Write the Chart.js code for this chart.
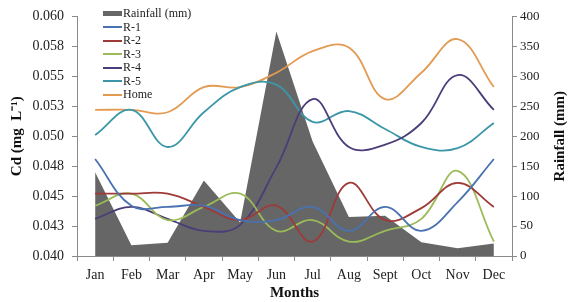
<!DOCTYPE html>
<html>
<head>
<meta charset="utf-8">
<script src="https://cdn.jsdelivr.net/npm/chart.js@4.4.0/dist/chart.umd.min.js"></script>
<style>
    body { margin: 0; background: #fff; }
    #wrap { position: relative; width: 568px; height: 302px; }
    #legend { position: absolute; left: 103px; top: 7px; font: 12px 'Liberation Serif', serif; color: #222; }
    #legend .row { height: 13.5px; display: flex; align-items: center; }
    #legend .sym { width: 19px; margin-right: 1px; }
</style>
</head>
<body>
<div id="wrap">
    <canvas id="rain-cd-chart" width="568" height="302"></canvas>
    <div id="legend"></div>
</div>
<script>
const months = ['Jan', 'Feb', 'Mar', 'Apr', 'May', 'Jun', 'Jul', 'Aug', 'Sept', 'Oct', 'Nov', 'Dec'];
const rainfall = [140, 18, 22, 126, 56, 375, 191, 65, 67, 23, 13, 21];
const r1 = [0.0481, 0.0442, 0.0441, 0.0442, 0.0430, 0.0430, 0.0441, 0.0421, 0.0441, 0.0421, 0.0445, 0.0481];
const r2 = [0.0452, 0.0452, 0.0452, 0.0441, 0.0430, 0.0442, 0.0412, 0.0461, 0.0430, 0.0440, 0.0461, 0.0441];
const r3 = [0.0442, 0.0452, 0.0430, 0.0441, 0.0452, 0.0421, 0.0430, 0.0412, 0.0421, 0.0431, 0.0471, 0.0412];
const r4 = [0.0431, 0.0441, 0.0431, 0.0421, 0.0426, 0.0474, 0.0531, 0.0491, 0.0493, 0.0511, 0.0551, 0.0522];
const r5 = [0.0501, 0.0522, 0.0491, 0.0520, 0.0541, 0.0543, 0.0512, 0.0521, 0.0506, 0.0491, 0.0490, 0.0511];
const home = [0.0522, 0.0522, 0.0520, 0.0541, 0.0541, 0.0553, 0.0571, 0.0574, 0.0531, 0.0553, 0.0581, 0.0541];
const cdTickValues = [0.040, 0.0425, 0.045, 0.0475, 0.050, 0.0525, 0.055, 0.0575, 0.060];
const cdTickLabels = ['0.040', '0.043', '0.045', '0.048', '0.050', '0.053', '0.055', '0.058', '0.060'];
const rainTickValues = [0, 50, 100, 150, 200, 250, 300, 350, 400];

const serif = "'Liberation Serif', 'Times New Roman', serif";
const axisGrey = '#8a8a8a';

const siteSeries = [
    { label: 'R-1', data: r1, color: '#4A72B0' },
    { label: 'R-2', data: r2, color: '#9E3B38' },
    { label: 'R-3', data: r3, color: '#9BBB59' },
    { label: 'R-4', data: r4, color: '#4B3D78' },
    { label: 'R-5', data: r5, color: '#3B97A8' },
    { label: 'Home', data: home, color: '#E39A52' }
];

const datasets = [{
    label: 'Rainfall (mm)',
    data: rainfall,
    yAxisID: 'y1',
    fill: 'origin',
    backgroundColor: '#666666',
    borderWidth: 0,
    pointRadius: 0,
    tension: 0,
    order: 10
}];
siteSeries.forEach(s => {
    datasets.push({
        label: s.label,
        data: s.data,
        yAxisID: 'y',
        borderColor: s.color,
        borderWidth: 1.8,
        pointRadius: 0,
        fill: false,
        tension: 0.4,
        order: 1
    });
});

// legend drawn as html, stacked inside the plot
const legendBox = document.getElementById('legend');
datasets.forEach(ds => {
    const row = document.createElement('div');
    row.className = 'row';
    const sym = document.createElement('div');
    sym.className = 'sym';
    if (ds.yAxisID === 'y1') {
        sym.style.height = '5px';
        sym.style.background = ds.backgroundColor;
    } else {
        sym.style.height = '2px';
        sym.style.background = ds.borderColor;
    }
    const txt = document.createElement('span');
    txt.textContent = ds.label;
    row.appendChild(sym);
    row.appendChild(txt);
    legendBox.appendChild(row);
});

// right axis title reads bottom-to-top, like the left one
const rightTitle = {
    id: 'rightTitle',
    afterDraw(chart) {
        const c = chart.ctx;
        const area = chart.chartArea;
        c.save();
        c.translate(560, (area.top + area.bottom) / 2);
        c.rotate(-Math.PI / 2);
        c.font = 'bold 15px ' + serif;
        c.fillStyle = '#111';
        c.textAlign = 'center';
        c.textBaseline = 'middle';
        c.fillText('Rainfall (mm)', 0, 0);
        c.restore();
    }
};

new Chart(document.getElementById('rain-cd-chart'), {
    type: 'line',
    data: { labels: months, datasets: datasets },
    plugins: [rightTitle],
    options: {
        responsive: false,
        animation: false,
        devicePixelRatio: 1,
        layout: { padding: { top: 13, left: 0, right: 0, bottom: 0 } },
        plugins: { legend: { display: false }, tooltip: { enabled: false } },
        scales: {
            x: {
                offset: true,
                afterFit: scale => { scale.height = 46; },
                grid: { offset: true, drawOnChartArea: false, tickLength: 5, color: axisGrey },
                border: { color: axisGrey },
                ticks: { color: '#222', padding: 6, maxRotation: 0, font: { family: serif, size: 14 } },
                title: { display: true, text: 'Months', color: '#111', padding: { top: 0, bottom: 0 }, font: { family: serif, size: 15, weight: 'bold' } }
            },
            y: {
                position: 'left',
                min: 0.040,
                max: 0.060,
                afterFit: scale => { scale.width = 77; },
                afterBuildTicks: scale => { scale.ticks = cdTickValues.map(v => ({ value: v })); },
                grid: { drawOnChartArea: false, tickLength: 5, color: axisGrey },
                border: { color: axisGrey },
                ticks: {
                    color: '#222',
                    padding: 8,
                    font: { family: serif, size: 14 },
                    callback: (value, index) => cdTickLabels[index]
                },
                title: { display: true, text: 'Cd (mg  L⁻¹)', color: '#111', padding: { top: 8, bottom: 0 }, font: { family: serif, size: 15, weight: 'bold' } }
            },
            y1: {
                position: 'right',
                min: 0,
                max: 400,
                afterFit: scale => { scale.width = 56; },
                afterBuildTicks: scale => { scale.ticks = rainTickValues.map(v => ({ value: v })); },
                grid: { drawOnChartArea: false, tickLength: 5, color: axisGrey },
                border: { color: axisGrey },
                ticks: { color: '#222', padding: 3, font: { family: serif, size: 13 } },
                title: { display: false }
            }
        }
    }
});
</script>
</body>
</html>
